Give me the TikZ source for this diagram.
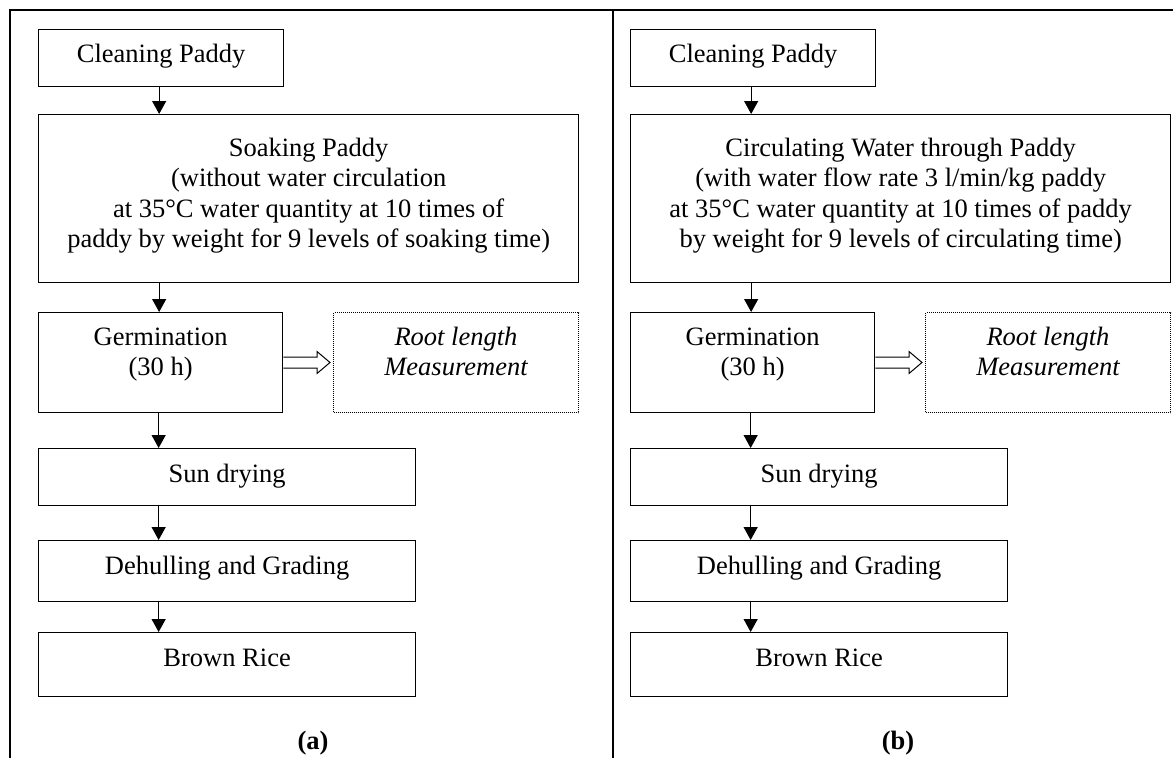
\documentclass[tikz,border=0pt]{standalone}
\usepackage{fontspec}
\setmainfont{Liberation Serif}
\usetikzlibrary{arrows.meta}
\tikzset{
  box/.style={draw, line width=1.3pt, anchor=north west, inner sep=0pt},
  dbox/.style={draw, line width=1pt, densely dotted, anchor=north west, inner sep=0pt},
  lbl/.style={anchor=north, inner sep=0pt, align=center, font=\fontsize{26.5}{30.5}\selectfont},
  flow/.style={line width=1.3pt, -{Triangle[width=14pt,length=13pt]}},
  hollow/.style={line width=1pt, fill=white},
  framestyle/.style={line width=1.3pt},
  caplbl/.style={anchor=base, inner sep=0pt, font=\fontsize{26.5}{30.5}\selectfont\bfseries},
}
\newcommand\flowpanel[3]{%
\begin{scope}[xshift=#1pt]
  \node[box, minimum width=245pt, minimum height=57pt] (cp#2) at (38,29) {};
  \node[box, minimum width=540pt, minimum height=168pt] (soak#2) at (38,114) {};
  \node[box, minimum width=244pt, minimum height=100pt] (germ#2) at (38,312) {};
  \node[dbox, minimum width=245pt, minimum height=100pt] (root#2) at (333,312) {};
  \node[box, minimum width=377pt, minimum height=57pt] (sun#2) at (38,448) {};
  \node[box, minimum width=377pt, minimum height=61pt] (dehull#2) at (38,540) {};
  \node[box, minimum width=377pt, minimum height=64pt] (brown#2) at (38,632) {};
  \node[lbl] (cpt#2) at ([yshift=-11.65pt]cp#2.north) {\strut Cleaning Paddy};
  \node[lbl] (soakt#2) at ([yshift=-20.65pt]soak#2.north) {\strut #3};
  \node[lbl] (germt#2) at ([yshift=-11.65pt]germ#2.north) {\strut Germination\\(30 h)};
  \node[lbl, font=\fontsize{26.5}{30.5}\selectfont\itshape] (roott#2) at ([yshift=-11.65pt]root#2.north) {\strut Root length\\Measurement};
  \node[lbl] (sunt#2) at ([yshift=-12.65pt]sun#2.north) {\strut Sun drying};
  \node[lbl] (dehullt#2) at ([yshift=-12.65pt]dehull#2.north) {\strut Dehulling and Grading};
  \node[lbl] (brownt#2) at ([yshift=-12.65pt]brown#2.north) {\strut Brown Rice};
  \draw[flow] ([xshift=-2pt]cp#2.south) -- ([xshift=-2pt]cp#2.south |- soak#2.north);
  \draw[flow] ([xshift=-2pt]cp#2.south |- soak#2.south) -- ([xshift=-2pt]cp#2.south |- germ#2.north);
  \draw[flow] ([xshift=-2pt]germ#2.south) -- ([xshift=-2pt]germ#2.south |- sun#2.north);
  \draw[flow] ([xshift=-2pt]germ#2.south |- sun#2.south) -- ([xshift=-2pt]germ#2.south |- dehull#2.north);
  \draw[flow] ([xshift=-2pt]germ#2.south |- dehull#2.south) -- ([xshift=-2pt]germ#2.south |- brown#2.north);
  \draw[hollow] ([yshift=-5.5pt]germ#2.east) -- ([shift={(-16pt,-5.5pt)}]root#2.west)
     -- ([shift={(-16pt,-11pt)}]root#2.west) -- ([xshift=-3pt]root#2.west)
     -- ([shift={(-16pt,11pt)}]root#2.west) -- ([shift={(-16pt,5.5pt)}]root#2.west)
     -- ([yshift=5.5pt]germ#2.east);
\end{scope}}
\begin{document}
\begin{tikzpicture}[x=1pt,y=-1pt]
\useasboundingbox (0,0) rectangle (1173,758);
\draw[framestyle] (10,758) -- (10,10) -- (1173,10);
\draw[framestyle] (613,10) -- (613,758);
\flowpanel{0}{A}{Soaking Paddy\\(without water circulation\\at 35°C water quantity at 10 times of\\paddy by weight for 9 levels of soaking time)}
\flowpanel{592}{B}{Circulating Water through Paddy\\(with water flow rate 3 l/min/kg paddy\\at 35°C water quantity at 10 times of paddy\\by weight for 9 levels of circulating time)}
\node[caplbl] (capa) at (313,749) {(a)};
\node[caplbl] (capb) at (898,749) {(b)};
\end{tikzpicture}
\end{document}
